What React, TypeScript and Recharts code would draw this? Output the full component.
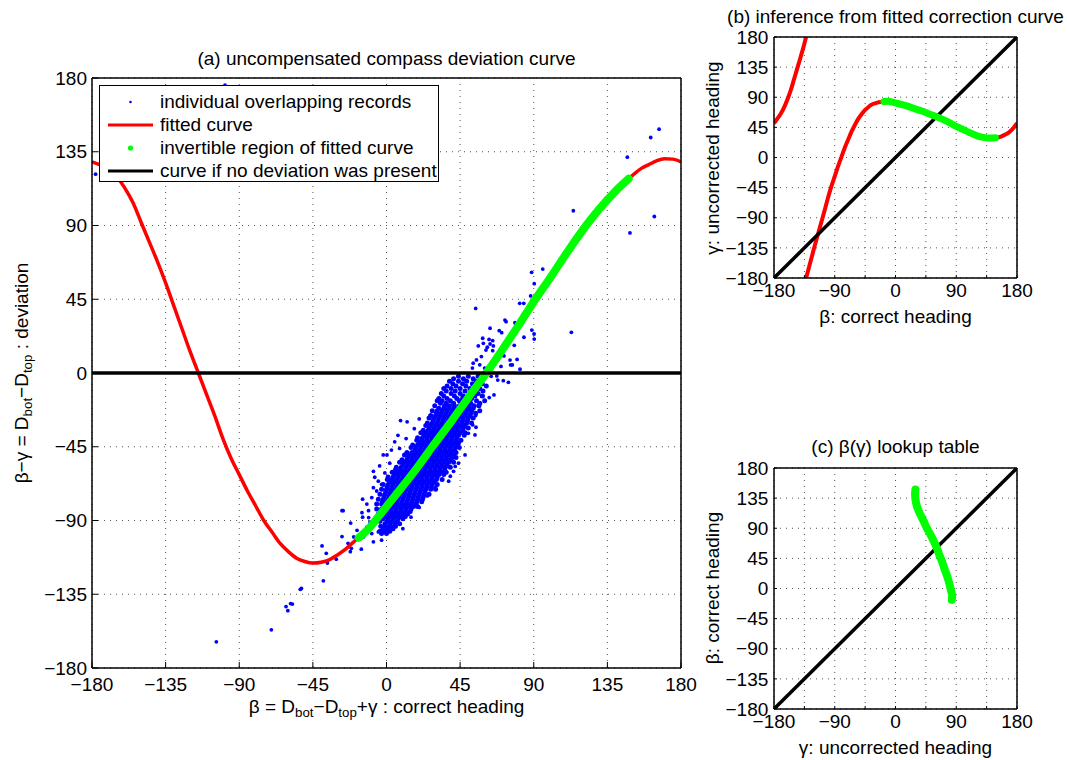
import React from 'react';
import { ComposedChart, Line, Scatter, XAxis, YAxis, CartesianGrid, Legend } from 'recharts';

const FONT = '"Liberation Sans", Arial, Helvetica, sans-serif';
const TICKS = [-180, -135, -90, -45, 0, 45, 90, 135, 180];

// (a) fitted deviation curve, beta -> beta-gamma (deg)
const fitLeftBeta = [-180, -175, -170, -165, -160, -155, -150, -145, -140, -135, -130, -125, -120, -115, -110, -105, -100, -95, -90, -85, -80, -75, -70, -65, -60, -55, -50, -45, -40, -35, -30, -25, -20, -17];
const fitLeftDev = [128.8, 127, 124.5, 120, 113, 104, 92, 80, 68, 55, 41, 27, 13, 0, -13, -26, -40, -52, -62, -72, -81, -90, -97, -104, -109, -113, -115, -116, -115.5, -114, -111, -107.5, -103, -100.5];
const invBeta = [-17, -10, -6, 0, 10, 20, 28, 40, 50, 61, 70, 80, 91, 100, 110, 122, 130, 140, 148];
const invDev = [-100.5, -94, -89, -81.5, -69, -56, -45, -29, -15, 0, 13, 28, 45, 58, 73, 90, 100, 111, 118.5];
const fitRightBeta = [148, 152, 156, 160, 165, 170, 175, 180];
const fitRightDev = [118.5, 122, 125, 127, 129.5, 130.8, 130.5, 128.8];

// dense core of the overlapping records: [deviation, headings]
const recordRows: [number, number[]][] = [
  [-2, [44, 50, 56]],
  [-3.5, [41, 47, 53, 59]],
  [-5, [38.5, 44, 49, 55]],
  [-6.5, [40.5, 46.5, 52.5, 58.5]],
  [-8, [37, 42.5, 48.5, 54.5, 61]],
  [-9.5, [35, 39.5, 45, 51, 57]],
  [-11, [36.5, 42, 48, 53.5, 59]],
  [-12.5, [33.5, 39.5, 45, 51, 56]],
  [-14, [35, 41.5, 47, 50.5, 54, 58.5]],
  [-15.5, [32, 37, 43, 46.5, 52]],
  [-17, [31, 34, 39, 44.5, 49, 55, 60]],
  [-18.5, [33, 36.5, 41, 47, 51.5, 57]],
  [-20, [29.5, 35.5, 38.5, 41.5, 44.5, 47.5, 50.5, 53.5, 56.5]],
  [-21.5, [32, 35, 38, 41, 44, 47, 50, 53]],
  [-23, [28, 31, 34, 37, 40, 43, 46, 49, 52, 57]],
  [-24.5, [30.5, 33.5, 36.5, 39.5, 42.5, 45.5, 48.5, 51.5, 54.5]],
  [-26, [27, 30, 33, 36, 39, 42, 45, 48, 51]],
  [-27.5, [26, 29, 32, 35, 38, 41, 44, 47, 50, 53]],
  [-29, [28.5, 31.5, 34.5, 37.5, 40.5, 43.5, 46.5, 49.5]],
  [-30.5, [25, 28, 31, 34, 37, 40, 43, 46, 49, 52]],
  [-32, [24, 27, 30, 33, 36, 39, 42, 45, 48]],
  [-33.5, [26, 29, 32, 35, 38, 41, 44, 47, 50]],
  [-35, [22.5, 25.5, 28.5, 31.5, 34.5, 37.5, 40.5, 43.5, 46.5]],
  [-36.5, [21, 24, 27, 30, 33, 36, 39, 42, 45, 48]],
  [-38, [23, 26, 29, 32, 35, 38, 41, 44, 47.5]],
  [-39.5, [19, 22, 25, 28, 31, 34, 37, 40, 43]],
  [-41, [18.5, 21.5, 24.5, 27.5, 30.5, 33.5, 36.5, 39.5, 42.5, 45.5]],
  [-42.5, [20, 23, 26, 29, 32, 35, 38, 41, 44]],
  [-44, [16, 19, 22, 25, 28, 31, 34, 37, 40, 43]],
  [-45.5, [15, 18, 21, 24, 27, 30, 33, 36, 39, 42, 44.5]],
  [-47, [17.5, 20.5, 23.5, 26.5, 29.5, 32.5, 35.5, 38.5, 41.5]],
  [-48.5, [12.5, 15.5, 18.5, 21.5, 24.5, 27.5, 30.5, 33.5, 36.5, 39.5, 42.5]],
  [-50, [11, 14, 17, 20, 23, 26, 29, 32, 35, 38, 41]],
  [-51.5, [13, 16, 19, 22, 25, 28, 31, 34, 37, 40, 42.5]],
  [-53, [9.5, 12.5, 15.5, 18.5, 21.5, 24.5, 27.5, 30.5, 33.5, 36.5, 39.5]],
  [-54.5, [8, 11, 14, 17, 20, 23, 26, 29, 32, 35, 38, 41]],
  [-56, [10, 13, 16, 19, 22, 25, 28, 31, 34, 37]],
  [-57.5, [6, 9, 12, 15, 18, 21, 24, 27, 30, 33, 36, 39]],
  [-59, [5.5, 8.5, 11.5, 14.5, 17.5, 20.5, 23.5, 26.5, 29.5, 32.5, 35.5]],
  [-60.5, [3.5, 6.5, 9.5, 12.5, 15.5, 18.5, 21.5, 24.5, 27.5, 30.5, 33.5, 36.5]],
  [-62, [5, 8, 11, 14, 17, 20, 23, 26, 29, 32, 35]],
  [-63.5, [1, 4, 7, 10, 13, 16, 19, 22, 25, 28, 31]],
  [-65, [0.5, 3.5, 6.5, 9.5, 12.5, 15.5, 18.5, 21.5, 24.5, 27.5, 30.5, 34]],
  [-66.5, [2, 5, 8, 11, 14, 17, 20, 23, 26, 29]],
  [-68, [-2, 1, 4, 7, 10, 13, 16, 19, 22, 25, 28, 31]],
  [-69.5, [0.5, 3.5, 6.5, 9.5, 12.5, 15.5, 18.5, 21.5, 24.5, 27.5]],
  [-71, [-3, 0, 3, 6, 9, 12, 15, 18, 21, 24, 27, 30]],
  [-72.5, [-0.5, 2.5, 5.5, 8.5, 11.5, 14.5, 17.5, 20.5, 23.5]],
  [-74, [-4, -1, 2, 5, 8, 11, 14, 17, 20, 23, 26]],
  [-75.5, [-1.5, 1.5, 4.5, 7.5, 10.5, 13.5, 16.5, 19.5, 22.5]],
  [-77, [-5, -2, 1, 4, 7, 10, 13, 16, 19, 22]],
  [-78.5, [-2.5, 0.5, 3.5, 6.5, 9.5, 12.5, 15.5, 18.5, 21.5]],
  [-80, [-6, -3, 0, 3, 6, 9, 12, 15, 18]],
  [-81.5, [-1.5, 1.5, 4.5, 7.5, 10.5, 13.5, 16.5, 19]],
  [-83, [-6, -3, 0, 3, 6, 9, 12, 15]],
  [-84.5, [-3.5, -0.5, 2.5, 5.5, 8.5, 11.5, 14.5]],
  [-86, [-5, -2, 1, 4, 7, 10, 13]],
  [-87.5, [-0.5, 2.5, 5.5, 8.5, 11.5]],
  [-89, [-5, -2, 1, 4, 7, 10]],
  [-90.5, [-4, 0.5, 3.5, 6.5]],
  [-92, [-1, 2, 5, 8]],
  [-93.5, [-3.5, -0.5, 2.5, 5.5]],
  [-95, [-2, 1, 4]],
  [-96.5, [-4, -1, 2]],
  [-98, [-3, 0]],
];

// scattered records away from the core: [beta, beta-gamma]
const recordStray: [number, number][] = [
  [-104, -164], [-70.4, -156.7], [-61.4, -142.5], [-60.3, -145], [-58.6, -140.7], [-57.5, -141],
  [-52.7, -132], [-52, -131.5], [-38.6, -126.8], [-36.1, -116], [-39.4, -105.5], [-36.8, -110],
  [-30.7, -113.6], [-27.2, -84], [-26.5, -84], [-21.9, -91.6], [-27.2, -99.8], [-23.5, -103.9],
  [-22.1, -109], [-21.5, -107], [-15.4, -107.5], [-15, -85.2], [-14.6, -88], [-14.6, -77],
  [-10.9, -88.2], [-7.2, -63.6], [-4.2, -56.7], [0.3, -50], [8.6, -29], [12.6, -29.8],
  [-177.8, 121.3], [-98.7, 175.6],
  [166.6, 148.8], [161.5, 143.7], [147.2, 131.7], [163.7, 95.5], [148.8, 85.5], [114.2, 99],
  [113, 24.8], [95.5, 63.4], [88.7, 61.4], [90.3, 54.5], [88.1, 47], [90.6, 44.3], [81.4, 42.5],
  [83.9, 42.5], [87.7, 39.6], [54.5, 39.4], [83.6, 35.8], [72.4, 32.3], [73.1, 31.3], [78.5, 30.7],
  [79, 29.9], [77.9, 26.6], [77.5, 25.8], [63.3, 27.3], [68.9, 25.8], [70.4, 24.6], [88.8, 26.2],
  [90.2, 23.8], [90.3, 20.7], [84, 21.8], [58.8, 21.2], [59.2, 18.1], [62.7, 20.5], [63.3, 17.7],
  [64.9, 19.7], [56.1, 16.5], [61.6, 15.7], [65.3, 16.5], [60.8, 14], [64.9, 13.6], [78.1, 16.9],
  [71.8, 10.4], [75.5, 7.9], [79.8, 8.3], [75.9, 4.9], [76.9, 4.9], [81.6, 2.3], [67.4, -1.8],
  [68, -4.3], [71.4, -4.7], [74.5, -5.7], [62.8, -15], [65.7, -13.4], [54.5, -26], [54.7, -33.1],
  [54.1, -37.8], [52.7, -31.7], [50, -36.8], [46.9, -32.7], [44.5, -36.2], [49, -19.5], [51, -22.6],
  [55, 8], [57, 5], [53, 6], [58, 10], [60, 3], [52.5, 3], [56, -1], [59, -3], [61, 1], [64, -2],
  [66, 6], [70, 4], [-20, -100], [-18, -96], [-12, -94], [-9, -98], [-8, -103], [-14, -100],
  [-10, -91], [-5, -97], [-3, -102], [-12, -80], [-9, -76], [-6, -72], [-3, -68], [-11, -84],
  [-8, -60], [-2, -50], [3, -47], [5, -42], [2, -55], [-5, -66], [-1, -61], [7, -38],
  [38, -66], [41, -60], [44, -55], [25, -75], [30, -70], [20, -82], [15, -88], [10, -95], [48, -50],
  [20, -28], [17, -34], [12, -40], [8, -46], [39, -63], [42, -57], [-8, -70], [56, -20], [59, -14],
];

// (b) gamma = beta - deviation, wrapped to +-180
const bRed1Beta = [-180, -175, -170, -165, -160, -155, -150, -145, -140, -135, -132.5];
const bRed1Gamma = [51.2, 58, 65.5, 75, 87, 101, 118, 135, 152, 170, 180];
const bRed2Beta = [-132.5, -130, -125, -120, -115, -110, -105, -100, -95, -90, -85, -80, -75, -70, -65, -60, -55, -50, -45, -40, -35, -30, -25, -20, -17];
const bRed2Gamma = [-180, -171, -152, -133, -115, -97, -79, -60, -43, -28, -13, 1, 15, 27, 39, 49, 58, 65, 71, 75.5, 79, 81, 82.5, 83, 83.5];
const bGreenGamma = [83.5, 84, 83, 81.5, 79, 76, 73, 69, 65, 61, 57, 52, 46, 42, 37, 32, 30, 29, 29.5];
const bRed3Gamma = [29.5, 30, 31, 33, 35.5, 39.2, 44.5, 51.2];

// (c) lookup table beta(gamma)
const cGamma = [83.5, 84, 83, 81.5, 79, 76, 73, 69, 65, 61, 57, 52, 46, 42, 37, 32, 30, 29, 29.5];
const cBeta = [-17, -10, -6, 0, 10, 20, 28, 40, 50, 61, 70, 80, 91, 100, 110, 122, 130, 140, 148];

const diagX = [-180, 180];
const zeroY = [0, 0];

const pts = (xs: number[], ys: number[]) => xs.map((x, i) => ({ x, y: ys[i] }));

const coreRecords = recordRows.flatMap(([y, xs]) => xs.map((x) => ({ x, y })));
const strayRecords = recordStray.map(([x, y]) => ({ x, y }));

const BLUE = '#0000ff';
const RED = '#ff0000';
const GREEN = '#00ff00';

const legendItems = [
  { label: 'individual overlapping records', kind: 'dot', color: BLUE, r: 1.3 },
  { label: 'fitted curve', kind: 'line', color: RED, r: 0 },
  { label: 'invertible region of fitted curve', kind: 'dot', color: GREEN, r: 2.6 },
  { label: 'curve if no deviation was present', kind: 'line', color: '#000', r: 0 },
];

const fmt = (every: number) => (v: number) => (v % every === 0 ? (v < 0 ? `\u2212${-v}` : `${v}`) : '');

function axes(tick: number, xGap: number, yGap: number, yWidth: number, xEvery: number) {
  const frame = { stroke: '#000', strokeWidth: 1.5 };
  const label = { fontSize: 19, fill: '#000', fontFamily: FONT };
  return [
    <XAxis key="xb" dataKey="x" type="number" domain={[-180, 180]} ticks={TICKS} interval={0} allowDataOverflow height={30}
      tickSize={-tick} tickMargin={xGap} axisLine={frame} tickLine={{ stroke: '#000' }} tick={label} tickFormatter={fmt(xEvery)} />,
    <XAxis key="xt" xAxisId="top" orientation="top" type="number" domain={[-180, 180]} ticks={TICKS} interval={0} height={1}
      tickSize={-tick} axisLine={frame} tickLine={{ stroke: '#000' }} tick={false} />,
    <YAxis key="yl" dataKey="y" type="number" domain={[-180, 180]} ticks={TICKS} interval={0} allowDataOverflow width={yWidth}
      tickSize={-tick} tickMargin={yGap} axisLine={frame} tickLine={{ stroke: '#000' }} tick={label} tickFormatter={fmt(45)} />,
    <YAxis key="yr" yAxisId="right" orientation="right" type="number" domain={[-180, 180]} ticks={TICKS} interval={0} width={1}
      tickSize={-tick} axisLine={frame} tickLine={{ stroke: '#000' }} tick={false} />,
  ];
}

const grid = <CartesianGrid stroke="#555" strokeDasharray="1 5" />;

function Sub({ children }: { children: React.ReactNode }) {
  return <span style={{ fontSize: '0.7em', position: 'relative', top: '0.32em', lineHeight: 0 }}>{children}</span>;
}

function Txt({ x, y, rotate, children }: { x: number; y: number; rotate?: boolean; children: React.ReactNode }) {
  return (
    <div
      style={{
        position: 'absolute', left: x, top: y, fontSize: 19, lineHeight: 1, whiteSpace: 'nowrap',
        transform: `translate(-50%, -50%)${rotate ? ' rotate(-90deg)' : ''}`,
      }}
    >
      {children}
    </div>
  );
}

function LegendBox() {
  return (
    <div style={{ position: 'relative', width: 340, height: 97, boxSizing: 'border-box', border: '1.5px solid #000', background: '#fff', fontFamily: FONT, fontSize: 19 }}>
      {legendItems.map((it, i) => (
        <div key={it.label} style={{ position: 'absolute', left: 0, top: 15.5 + i * 23.1 - 11, height: 22, display: 'flex', alignItems: 'center', whiteSpace: 'nowrap' }}>
          <svg width={60} height={22} style={{ display: 'block' }}>
            {it.kind === 'line'
              ? <line x1={8} x2={53} y1={11} y2={11} stroke={it.color} strokeWidth={3} />
              : <circle cx={30.5} cy={11} r={it.r} fill={it.color} />}
          </svg>
          <span style={{ lineHeight: 1 }}>{it.label}</span>
        </div>
      ))}
    </div>
  );
}

const lineProps = { dataKey: 'y', dot: false, activeDot: false, isAnimationActive: false } as const;

export default function App() {
  return (
    <div style={{ position: 'absolute', left: 0, top: 0, width: 1067, height: 760, background: '#fff', fontFamily: FONT, color: '#000', overflow: 'hidden' }}>
      <Txt x={386.5} y={57.5}>(a) uncompensated compass deviation curve</Txt>
      <Txt x={895.5} y={16}>(b) inference from fitted correction curve</Txt>
      <Txt x={895.5} y={446}>(c) β(γ) lookup table</Txt>
      <Txt x={386.5} y={706}>β = D<Sub>bot</Sub>−D<Sub>top</Sub>+γ : correct heading</Txt>
      <Txt x={21} y={373} rotate>β−γ = D<Sub>bot</Sub>−D<Sub>top</Sub> : deviation</Txt>
      <Txt x={895.5} y={316}>β: correct heading</Txt>
      <Txt x={711.5} y={157.5} rotate>γ: uncorrected heading</Txt>
      <Txt x={895.5} y={747}>γ: uncorrected heading</Txt>
      <Txt x={711.5} y={588} rotate>β: correct heading</Txt>

      <div style={{ position: 'absolute', left: 0, top: 0 }}>
        <ComposedChart width={700} height={760} margin={{ top: 77, right: 18, bottom: 62, left: 32 }}>
          {grid}
          <Scatter data={coreRecords} dataKey="y" isAnimationActive={false} zIndex={340}
            shape={(p: any) => <circle cx={p.cx} cy={p.cy} r={2.5} fill={BLUE} />} />
          <Scatter data={strayRecords} dataKey="y" isAnimationActive={false} zIndex={350}
            shape={(p: any) => <circle cx={p.cx} cy={p.cy} r={1.9} fill={BLUE} />} />
          <Line {...lineProps} data={pts(fitLeftBeta, fitLeftDev)} type="monotone" stroke={RED} strokeWidth={3.5} />
          <Line {...lineProps} data={pts(fitRightBeta, fitRightDev)} type="monotone" stroke={RED} strokeWidth={3.5} />
          <Line {...lineProps} data={pts(invBeta, invDev)} type="monotone" stroke={GREEN} strokeWidth={8} strokeLinecap="round" />
          <Line {...lineProps} data={pts(diagX, zeroY)} type="linear" stroke="#000" strokeWidth={3.5} />
          {axes(6, 16, 11, 60, 45)}
          <Legend layout="vertical" align="center" verticalAlign="middle" content={() => <LegendBox />}
            wrapperStyle={{ left: 99, top: 85, width: 340, height: 97 }} />
        </ComposedChart>
      </div>

      <div style={{ position: 'absolute', left: 700, top: 0 }}>
        <ComposedChart width={367} height={330} margin={{ top: 36, right: 49, bottom: 22, left: 24 }}>
          {grid}
          <Line {...lineProps} data={pts(bRed1Beta, bRed1Gamma)} type="monotone" stroke={RED} strokeWidth={4} />
          <Line {...lineProps} data={pts(bRed2Beta, bRed2Gamma)} type="monotone" stroke={RED} strokeWidth={4} />
          <Line {...lineProps} data={pts(fitRightBeta, bRed3Gamma)} type="monotone" stroke={RED} strokeWidth={4} />
          <Line {...lineProps} data={pts(diagX, diagX)} type="linear" stroke="#000" strokeWidth={3.5} />
          <Line {...lineProps} data={pts(invBeta, bGreenGamma)} type="monotone" stroke={GREEN} strokeWidth={7} strokeLinecap="round" />
          {axes(3, 9, 8.7, 50, 90)}
        </ComposedChart>
      </div>

      <div style={{ position: 'absolute', left: 700, top: 431 }}>
        <ComposedChart width={367} height={330} margin={{ top: 36, right: 49, bottom: 22, left: 24 }}>
          {grid}
          <Line {...lineProps} data={pts(diagX, diagX)} type="linear" stroke="#000" strokeWidth={3.5} />
          <Line {...lineProps} data={pts(cGamma, cBeta)} type="natural" stroke={GREEN} strokeWidth={8} strokeLinecap="round" />
          {axes(3, 9, 8.7, 50, 90)}
        </ComposedChart>
      </div>
    </div>
  );
}
